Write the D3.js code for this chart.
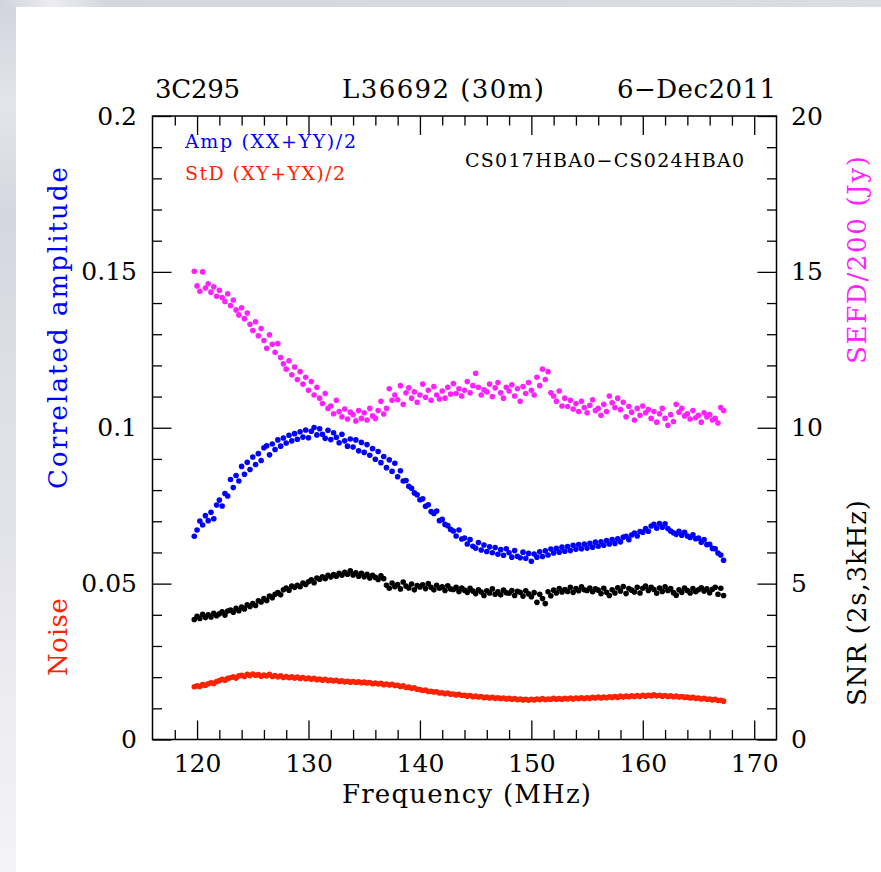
<!DOCTYPE html>
<html>
<head>
<meta charset="utf-8">
<script src="https://cdn.jsdelivr.net/npm/d3@7"></script>
<style>
  html, body { margin: 0; padding: 0; background: #ffffff; }
  svg { display: block; }
  text { font-family: "DejaVu Serif", serif; }
</style>
</head>
<body>
<svg id="chart" width="881" height="872"></svg>
<script>
// Observation: 3C295, L36692, baseline CS017HBA0-CS024HBA0, HBA subbands
const freqMHz = [
  119.75,
  120, 120.25, 120.5, 120.75, 121, 121.25, 121.5, 121.75,
  122, 122.25, 122.5, 122.75, 123, 123.25, 123.5, 123.75,
  124, 124.25, 124.5, 124.75, 125, 125.25, 125.5, 125.75,
  126, 126.25, 126.5, 126.75, 127, 127.25, 127.5, 127.75,
  128, 128.25, 128.5, 128.75, 129, 129.25, 129.5, 129.75,
  130, 130.25, 130.5, 130.75, 131, 131.25, 131.5, 131.75,
  132, 132.25, 132.5, 132.75, 133, 133.25, 133.5, 133.75,
  134, 134.25, 134.5, 134.75, 135, 135.25, 135.5, 135.75,
  136, 136.25, 136.5, 136.75, 137, 137.25, 137.5, 137.75,
  138, 138.25, 138.5, 138.75, 139, 139.25, 139.5, 139.75,
  140, 140.25, 140.5, 140.75, 141, 141.25, 141.5, 141.75,
  142, 142.25, 142.5, 142.75, 143, 143.25, 143.5, 143.75,
  144, 144.25, 144.5, 144.75, 145, 145.25, 145.5, 145.75,
  146, 146.25, 146.5, 146.75, 147, 147.25, 147.5, 147.75,
  148, 148.25, 148.5, 148.75, 149, 149.25, 149.5, 149.75,
  150, 150.25, 150.5, 150.75, 151, 151.25, 151.5, 151.75,
  152, 152.25, 152.5, 152.75, 153, 153.25, 153.5, 153.75,
  154, 154.25, 154.5, 154.75, 155, 155.25, 155.5, 155.75,
  156, 156.25, 156.5, 156.75, 157, 157.25, 157.5, 157.75,
  158, 158.25, 158.5, 158.75, 159, 159.25, 159.5, 159.75,
  160, 160.25, 160.5, 160.75, 161, 161.25, 161.5, 161.75,
  162, 162.25, 162.5, 162.75, 163, 163.25, 163.5, 163.75,
  164, 164.25, 164.5, 164.75, 165, 165.25, 165.5, 165.75,
  166, 166.25, 166.5, 166.75, 167, 167.25
];

// Amp (XX+YY)/2 — correlated amplitude
const ampXXYY = [
  0.0652,
  0.0672, 0.0701, 0.0688, 0.0718, 0.0702, 0.0729, 0.0708, 0.0752,
  0.0768, 0.0749, 0.0789, 0.0781, 0.0834, 0.0808, 0.0847, 0.0829,
  0.0876, 0.0851, 0.0889, 0.0866, 0.0906, 0.0882, 0.0917, 0.0895,
  0.0936, 0.0942, 0.0913, 0.0948, 0.0930, 0.0961, 0.0941, 0.0967,
  0.0951, 0.0976, 0.0958, 0.0981, 0.0963, 0.0987, 0.0970, 0.0993,
  0.0968, 0.0989, 0.1001, 0.0977, 0.0997, 0.0979, 0.0966, 0.0992,
  0.0962, 0.0984, 0.0969, 0.0952, 0.0979, 0.0958, 0.0941, 0.0964,
  0.0938, 0.0961, 0.0926, 0.0953, 0.0921, 0.0946, 0.0912, 0.0933,
  0.0899, 0.0924, 0.0888, 0.0908, 0.0872, 0.0897, 0.0860, 0.0886,
  0.0843, 0.0862, 0.0829, 0.0831, 0.0812, 0.0806, 0.0791, 0.0785,
  0.0769, 0.0772, 0.0748, 0.0753, 0.0731, 0.0725, 0.0733, 0.0702,
  0.0706, 0.0690, 0.0686, 0.0674, 0.0669, 0.0653, 0.0672, 0.0643,
  0.0646, 0.0627, 0.0641, 0.0620, 0.0614, 0.0632, 0.0608, 0.0624,
  0.0603, 0.0618, 0.0599, 0.0616, 0.0594, 0.0609, 0.0591, 0.0612,
  0.0599, 0.0585, 0.0606, 0.0588, 0.0583, 0.0601, 0.0581, 0.0597,
  0.0572, 0.0595, 0.0585, 0.0602, 0.0587, 0.0605, 0.0592, 0.0611,
  0.0598, 0.0613, 0.0601, 0.0617, 0.0604, 0.0619, 0.0606, 0.0623,
  0.0610, 0.0625, 0.0612, 0.0627, 0.0614, 0.0629, 0.0617, 0.0633,
  0.0620, 0.0634, 0.0623, 0.0638, 0.0627, 0.0641, 0.0629, 0.0644,
  0.0634, 0.0649, 0.0652, 0.0641, 0.0656, 0.0662, 0.0653, 0.0667,
  0.0665, 0.0677, 0.0668, 0.0685, 0.0690, 0.0678, 0.0693, 0.0681,
  0.0692, 0.0677, 0.0669, 0.0663, 0.0658, 0.0668, 0.0655, 0.0665,
  0.0653, 0.0648, 0.0657, 0.0644, 0.0646, 0.0633, 0.0641, 0.0625,
  0.0626, 0.0613, 0.0612, 0.0598, 0.0592, 0.0575
];

// StD (XY+YX)/2 — noise
const stdXYYX = [
  0.0169,
  0.0172, 0.0170, 0.0176, 0.0174, 0.0179, 0.0182, 0.0180, 0.0186,
  0.0189, 0.0193, 0.0190, 0.0196, 0.0198, 0.0201, 0.0197, 0.0204,
  0.0206, 0.0202, 0.0209, 0.0205, 0.0210, 0.0206, 0.0208, 0.0203,
  0.0207, 0.0204, 0.0209, 0.0202, 0.0205, 0.0201, 0.0204, 0.0199,
  0.0202, 0.0198, 0.0201, 0.0197, 0.0200, 0.0196, 0.0199, 0.0195,
  0.0197, 0.0193, 0.0196, 0.0192, 0.0194, 0.0190, 0.0193, 0.0189,
  0.0191, 0.0188, 0.0190, 0.0186, 0.0188, 0.0185, 0.0187, 0.0184,
  0.0186, 0.0183, 0.0185, 0.0182, 0.0184, 0.0181, 0.0183, 0.0179,
  0.0181, 0.0178, 0.0180, 0.0176, 0.0178, 0.0175, 0.0177, 0.0173,
  0.0174, 0.0170, 0.0172, 0.0167, 0.0168, 0.0164, 0.0166, 0.0161,
  0.0160, 0.0157, 0.0159, 0.0154, 0.0155, 0.0152, 0.0153, 0.0149,
  0.0150, 0.0147, 0.0149, 0.0145, 0.0146, 0.0143, 0.0145, 0.0141,
  0.0142, 0.0139, 0.0141, 0.0137, 0.0139, 0.0136, 0.0138, 0.0134,
  0.0136, 0.0133, 0.0135, 0.0132, 0.0134, 0.0131, 0.0133, 0.0130,
  0.0132, 0.0129, 0.0131, 0.0128, 0.0130, 0.0127, 0.0129, 0.0126,
  0.0129, 0.0127, 0.0130, 0.0128, 0.0131, 0.0128, 0.0130, 0.0129,
  0.0132, 0.0129, 0.0131, 0.0129, 0.0132, 0.0130, 0.0133, 0.0130,
  0.0133, 0.0131, 0.0134, 0.0131, 0.0134, 0.0132, 0.0135, 0.0133,
  0.0136, 0.0133, 0.0136, 0.0134, 0.0137, 0.0135, 0.0138, 0.0135,
  0.0139, 0.0136, 0.0139, 0.0137, 0.0140, 0.0138, 0.0141, 0.0138,
  0.0142, 0.0139, 0.0142, 0.0140, 0.0143, 0.0140, 0.0142, 0.0139,
  0.0141, 0.0138, 0.0140, 0.0137, 0.0139, 0.0136, 0.0138, 0.0135,
  0.0136, 0.0133, 0.0135, 0.0132, 0.0133, 0.0130, 0.0132, 0.0129,
  0.0130, 0.0127, 0.0129, 0.0125, 0.0126, 0.0123
];

// SNR (2s, 3kHz) — right axis
const snr = [
  3.85,
  3.95, 3.88, 4.02, 3.91, 4.00, 3.93, 4.05, 3.97,
  4.03, 4.10, 3.99, 4.12, 4.15, 4.08, 4.21, 4.13,
  4.25, 4.19, 4.32, 4.27, 4.36, 4.30, 4.45, 4.41,
  4.52, 4.46, 4.60, 4.55, 4.66, 4.71, 4.64, 4.80,
  4.86, 4.79, 4.92, 4.88, 4.95, 4.90, 5.02, 4.97,
  5.06, 5.12, 5.03, 5.18, 5.14, 5.22, 5.16, 5.27,
  5.21, 5.29, 5.24, 5.33, 5.27, 5.36, 5.30, 5.41,
  5.28, 5.35, 5.24, 5.33, 5.22, 5.30, 5.18, 5.27,
  5.20, 5.13, 5.25, 5.16, 4.95, 4.85, 5.02, 4.90,
  4.97, 4.83, 5.05, 4.92, 4.86, 4.99, 4.80, 4.94,
  4.89, 4.96, 4.84, 5.00, 4.88, 4.80, 4.95, 4.85,
  4.90, 4.78, 4.93, 4.83, 4.81, 4.88, 4.75, 4.86,
  4.79, 4.72, 4.85, 4.76, 4.68, 4.80, 4.73, 4.62,
  4.77, 4.70, 4.83, 4.66, 4.74, 4.64, 4.79, 4.71,
  4.69, 4.78, 4.62, 4.75, 4.72, 4.60, 4.77, 4.67,
  4.58, 4.71, 4.40, 4.66, 4.52, 4.36, 4.74, 4.61,
  4.79, 4.70, 4.84, 4.73, 4.81, 4.75, 4.88, 4.72,
  4.84, 4.77, 4.90, 4.80, 4.78, 4.86, 4.74, 4.83,
  4.79, 4.68, 4.85, 4.72, 4.62, 4.80, 4.70, 4.87,
  4.76, 4.91, 4.68, 4.84, 4.79, 4.73, 4.88, 4.70,
  4.85, 4.92, 4.78, 4.88, 4.81, 4.69, 4.86, 4.75,
  4.90, 4.78, 4.84, 4.71, 4.63, 4.80, 4.72, 4.86,
  4.78, 4.70, 4.84, 4.74, 4.80, 4.87, 4.76, 4.83,
  4.71, 4.82, 4.88, 4.66, 4.85, 4.62
];

// SEFD/200 (Jy) — right axis
const sefd200 = [
  15.02,
  14.55, 14.38, 15.00, 14.48, 14.62, 14.35, 14.52, 14.22,
  14.41, 14.18, 14.05, 14.30, 13.92, 14.10, 13.78, 13.62,
  13.85, 13.50, 13.68, 13.32, 13.12, 13.40, 12.95, 13.18,
  12.80, 12.55, 12.98, 12.68, 12.42, 12.70, 12.25, 12.05,
  11.88, 12.15, 11.70, 11.95, 11.55, 11.80, 11.40, 11.62,
  11.20, 11.48, 11.05, 11.30, 10.95, 10.78, 11.10, 10.62,
  10.70, 10.45, 10.88, 10.52, 10.35, 10.60, 10.28, 10.50,
  10.42, 10.22, 10.55, 10.30, 10.48, 10.25, 10.62, 10.38,
  10.30, 10.55, 10.85, 10.44, 10.62, 11.25, 10.88, 11.05,
  10.90, 11.35, 10.75, 11.12, 11.28, 10.95, 11.15, 10.82,
  11.05, 11.40, 10.98, 11.20, 10.88, 11.32, 11.05, 10.92,
  11.18, 10.95, 11.30, 11.08, 11.42, 11.10, 11.25, 11.02,
  11.20, 11.48, 11.12, 11.35, 11.75, 11.30, 11.05, 11.22,
  11.15, 11.40, 11.00, 11.28, 11.45, 11.12, 10.95, 11.30,
  11.18, 11.38, 11.02, 11.25, 10.85, 11.32, 11.10, 11.45,
  11.20, 11.05, 11.62, 11.35, 11.88, 11.55, 11.80, 11.12,
  11.02, 10.85, 11.18, 10.70, 10.95, 10.68, 10.88, 10.60,
  10.78, 10.52, 10.85, 10.65, 10.48, 10.72, 10.90, 10.55,
  10.62, 10.40, 10.75, 10.52, 11.02, 10.80, 10.65, 10.95,
  10.58, 10.82, 10.35, 10.68, 10.50, 10.25, 10.62, 10.40,
  10.70, 10.48, 10.58, 10.30, 10.52, 10.18, 10.45, 10.62,
  10.30, 10.08, 10.42, 10.20, 10.75, 10.50, 10.62, 10.38,
  10.45, 10.28, 10.55, 10.32, 10.40, 10.18, 10.48, 10.35,
  10.42, 10.25, 10.30, 10.15, 10.65, 10.55
];

// Axis ticks
const xTicks = [120, 130, 140, 150, 160, 170];
const yLeftTicks = [0, 0.05, 0.1, 0.15, 0.2];
const yLeftLabels = ["0", "0.05", "0.1", "0.15", "0.2"];
const yRightTicks = [0, 5, 10, 15, 20];

const headerLabels = ["3C295", "L36692 (30m)", "6\u2212Dec2011"];
const baselineLabel = "CS017HBA0\u2212CS024HBA0";

const colors = {
  amp: "#0000ff",
  std: "#ff2200",
  sefd: "#ff22ff",
  snr: "#000000"
};

const svg = d3.select("#chart");
const W = 881, H = 872;

// Slide-style backdrop with a white sheet on top
const defs = svg.append("defs");
const gLeft = defs.append("linearGradient").attr("id", "bandLeft")
  .attr("x1", 0).attr("y1", 0).attr("x2", 0).attr("y2", 1);
[[0, "#d3d3de"], [0.12, "#e4e4eb"], [0.25, "#d6d6e0"], [0.45, "#dfdfe7"],
 [0.62, "#e3e3ea"], [0.8, "#ececf1"], [1, "#f4f4f7"]]
  .forEach(([o, c]) => gLeft.append("stop").attr("offset", o).attr("stop-color", c));
const gTop = defs.append("linearGradient").attr("id", "bandTop")
  .attr("x1", 0).attr("y1", 0).attr("x2", 1).attr("y2", 0);
[[0, "#d2d2dd"], [0.06, "#ececf2"], [0.12, "#d6d6e0"], [0.5, "#d9d9e3"], [1, "#dcdce5"]]
  .forEach(([o, c]) => gTop.append("stop").attr("offset", o).attr("stop-color", c));

svg.append("rect").attr("x", 0).attr("y", 0).attr("width", 16).attr("height", H)
  .attr("fill", "url(#bandLeft)");
svg.append("rect").attr("x", 0).attr("y", 0).attr("width", W).attr("height", 7)
  .attr("fill", "url(#bandTop)");
svg.append("rect").attr("x", 16).attr("y", 7).attr("width", W - 16).attr("height", H - 7)
  .attr("fill", "#ffffff");

// Plot frame
const L = 152.5, R = 776.5, T = 116, B = 739.5;
const x = d3.scaleLinear().domain([116, 172]).range([L, R]);
const yL = d3.scaleLinear().domain([0, 0.2]).range([B, T]);
const yR = d3.scaleLinear().domain([0, 20]).range([B, T]);

const MAJ = 19, MIN = 9.5;
const xMinor = d3.range(118, 172, 2).filter(v => v % 10 !== 0);
const yMinor = d3.range(1, 20).filter(v => v % 5 !== 0).map(v => v / 100);
const yRMinor = d3.range(1, 20).filter(v => v % 5 !== 0);

function styleAxis(g) {
  g.select(".domain").remove();
  g.selectAll(".tick line").attr("stroke", "#000").attr("stroke-width", 1.3);
  g.selectAll(".tick text")
    .attr("fill", "#000")
    .attr("font-family", "DejaVu Serif, serif")
    .attr("font-size", 25);
}

const axes = svg.append("g");
// bottom
axes.append("g").attr("transform", `translate(0,${B})`)
  .call(d3.axisBottom(x).tickValues(xTicks).tickSize(-MAJ).tickPadding(15).tickFormat(d3.format("d")))
  .call(styleAxis);
axes.append("g").attr("transform", `translate(0,${B})`)
  .call(d3.axisBottom(x).tickValues(xMinor).tickSize(-MIN).tickFormat(""))
  .call(styleAxis);
// top
axes.append("g").attr("transform", `translate(0,${T})`)
  .call(d3.axisTop(x).tickValues(xTicks).tickSize(-MAJ).tickFormat(""))
  .call(styleAxis);
axes.append("g").attr("transform", `translate(0,${T})`)
  .call(d3.axisTop(x).tickValues(xMinor).tickSize(-MIN).tickFormat(""))
  .call(styleAxis);
// left
axes.append("g").attr("transform", `translate(${L},0)`)
  .call(d3.axisLeft(yL).tickValues(yLeftTicks).tickSize(-MAJ).tickPadding(15.5)
    .tickFormat((d, i) => yLeftLabels[i]))
  .call(styleAxis);
axes.append("g").attr("transform", `translate(${L},0)`)
  .call(d3.axisLeft(yL).tickValues(yMinor).tickSize(-MIN).tickFormat(""))
  .call(styleAxis);
// right
axes.append("g").attr("transform", `translate(${R},0)`)
  .call(d3.axisRight(yR).tickValues(yRightTicks).tickSize(-MAJ).tickPadding(14.5).tickFormat(d3.format("d")))
  .call(styleAxis);
axes.append("g").attr("transform", `translate(${R},0)`)
  .call(d3.axisRight(yR).tickValues(yRMinor).tickSize(-MIN).tickFormat(""))
  .call(styleAxis);

svg.append("rect")
  .attr("x", L).attr("y", T).attr("width", R - L).attr("height", B - T)
  .attr("fill", "none").attr("stroke", "#000").attr("stroke-width", 1.5);

// Data points
const plot = svg.append("g");
function dots(values, yScale, color) {
  plot.append("g").selectAll("circle")
    .data(values.map((v, i) => [freqMHz[i], v]))
    .join("circle")
    .attr("cx", d => x(d[0]))
    .attr("cy", d => yScale(d[1]))
    .attr("r", 2.8)
    .attr("fill", color);
}
dots(sefd200, yR, colors.sefd);
dots(ampXXYY, yL, colors.amp);
dots(snr, yR, colors.snr);
dots(stdXYYX, yL, colors.std);

// Text
function label(str, px, py, opts) {
  const t = svg.append("text")
    .attr("x", px).attr("y", py)
    .attr("font-size", opts.size)
    .attr("fill", opts.color || "#000")
    .text(str);
  if (opts.anchor) t.attr("text-anchor", opts.anchor);
  if (opts.len) t.attr("textLength", opts.len).attr("lengthAdjust", "spacing");
  if (opts.rot) t.attr("transform", `rotate(-90,${px},${py})`);
  return t;
}

// header line
label(headerLabels[0], 155, 98, { size: 26, len: 85 });
label(headerLabels[1], 342, 98, { size: 26, len: 202 });
label(headerLabels[2], 617, 98, { size: 26, len: 159 });

// x-axis title
label("Frequency (MHz)", 342, 803, { size: 26, len: 249 });

// left axis titles (rotated)
label("Correlated amplitude", 67, 489, { size: 26, len: 322, rot: true, color: colors.amp });
label("Noise", 67, 676, { size: 26, len: 78, rot: true, color: colors.std });

// right axis titles (rotated)
label("SEFD/200 (Jy)", 866, 364, { size: 26, len: 208, rot: true, color: colors.sefd });
label("SNR (2s,3kHz)", 866, 706, { size: 26, len: 206, rot: true, color: colors.snr });

// in-panel legend and baseline name
label("Amp (XX+YY)/2", 185, 148, { size: 19, len: 171, color: colors.amp });
label("StD (XY+YX)/2", 185, 179.5, { size: 19, len: 160, color: colors.std });
label(baselineLabel, 465, 167, { size: 19, len: 279, color: "#000" });
</script>
</body>
</html>
